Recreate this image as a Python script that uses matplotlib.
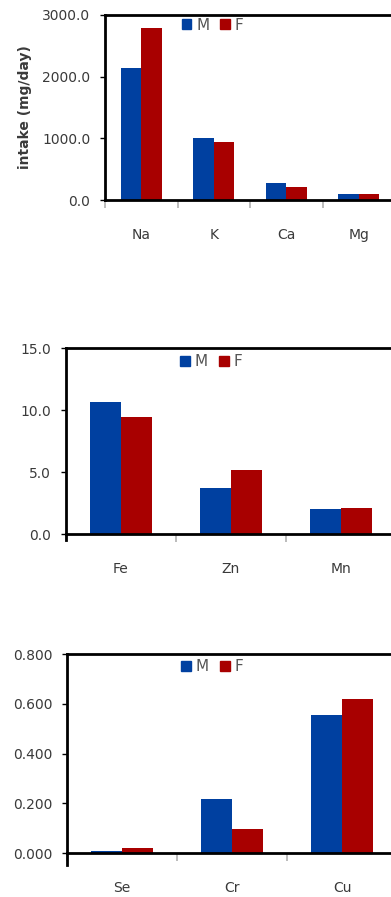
import matplotlib
matplotlib.use("Agg")
import matplotlib.pyplot as plt
from matplotlib.ticker import FormatStrFormatter
from matplotlib.patches import Patch

# mineral intake by sex (mg/day)
macro = ["Na", "K", "Ca", "Mg"]
macro_m = [2135, 1003, 283, 104]
macro_f = [2785, 937, 218, 104]

trace = ["Fe", "Zn", "Mn"]
trace_m = [10.62, 3.73, 2.03]
trace_f = [9.41, 5.19, 2.11]

ultra = ["Se", "Cr", "Cu"]
ultra_m = [0.009, 0.216, 0.554]
ultra_f = [0.021, 0.097, 0.621]

blue = "#0040a0"
red = "#a80000"
txt = "#3a3a3a"

fig = plt.figure(figsize=(3.91, 8.97), dpi=100)

W = 391.0
H = 897.0


def panel(left, width, zero_y, top_y, cats, m, f, ymax, step, fmt, leg_xy, extend=0.0):
    ax = fig.add_axes([left / W, 1 - zero_y / H, width / W, (zero_y - top_y) / H])
    n = len(cats)
    x = list(range(n))
    bw = 1 / 3.5
    ax.bar([i - bw / 2 for i in x], m, width=bw, color=blue, label="M")
    ax.bar([i + bw / 2 for i in x], f, width=bw, color=red, label="F")
    ax.set_xlim(-0.5, n - 0.5)
    ax.set_ylim(0, ymax)

    ax.set_yticks([step * k for k in range(int(round(ymax / step)) + 1)])
    ax.yaxis.set_major_formatter(FormatStrFormatter(fmt))
    ax.tick_params(axis="y", direction="out", length=3.6, width=1, color="black",
                   labelsize=10, labelcolor=txt, pad=7)

    # tick marks between categories, names centred under each pair
    ax.set_xticks([i - 0.5 for i in x])
    ax.set_xticklabels([])
    ax.tick_params(axis="x", which="major", direction="out", length=6, width=1.2,
                   color="#b0b0b0")
    ax.set_xticks(x, minor=True)
    ax.set_xticklabels(cats, minor=True)
    ax.tick_params(axis="x", which="minor", length=0, labelsize=10,
                   labelcolor=txt, pad=20)

    for s in ["left", "top", "bottom"]:
        ax.spines[s].set_linewidth(2)
        ax.spines[s].set_color("black")
    ax.spines["right"].set_visible(False)

    if extend:
        ax.plot([0, 0], [-extend, 0], transform=ax.get_yaxis_transform(),
                color="black", lw=2, clip_on=False)

    handles = [Patch(color=blue, label="M"), Patch(color=red, label="F")]
    leg = ax.legend(handles=handles, loc="center", bbox_to_anchor=leg_xy, ncol=2,
                    frameon=False, fontsize=11, handlelength=0.65, handleheight=0.65,
                    handletextpad=0.3, columnspacing=0.7, borderpad=0)
    for t in leg.get_texts():
        t.set_color("#555555")
    return ax


ax1 = panel(105, 290, 200, 15, macro, macro_m, macro_f, 3000, 1000, "%.1f",
            (0.37, 0.945))
ax1.set_ylabel("intake (mg/day)", fontsize=10, fontweight="bold", color=txt,
               labelpad=7)

panel(66, 330, 534, 348, trace, trace_m, trace_f, 15, 5, "%.1f",
      (0.44, 0.925), extend=0.45)

panel(67, 330, 853, 654, ultra, ultra_m, ultra_f, 0.8, 0.2, "%.3f",
      (0.44, 0.935), extend=0.05)

fig.savefig("out.png", dpi=100, facecolor="white")
